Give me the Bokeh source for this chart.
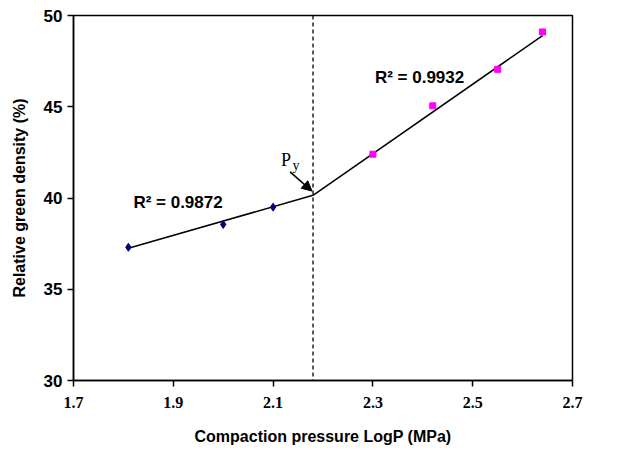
from bokeh.plotting import figure
from bokeh.models import FixedTicker, Span, Arrow, NormalHead, Label, Range1d
from bokeh.embed import file_html
from bokeh.resources import INLINE

# ---- data ----
logp_low = [1.81, 2.00, 2.10]
density_low = [37.3, 38.55, 39.5]
logp_high = [2.30, 2.42, 2.55, 2.64]
density_high = [42.4, 45.05, 47.05, 49.1]

fit_low_x = [1.81, 2.18]
fit_low_y = [37.25, 40.15]
fit_high_x = [2.18, 2.64]
fit_high_y = [40.15, 48.9]

py_logp = 2.18

x_ticks = [1.7, 1.9, 2.1, 2.3, 2.5, 2.7]
y_ticks = [30, 35, 40, 45, 50]

r2_low_text = "R\u00b2 = 0.9872"
r2_high_text = "R\u00b2 = 0.9932"

# ---- figure ----
p = figure(width=606, height=452, output_backend="svg", toolbar_location=None,
           x_range=Range1d(1.7, 2.7), y_range=Range1d(30, 50),
           min_border_left=73, min_border_right=34, min_border_top=15, min_border_bottom=72)

p.xgrid.visible = False
p.ygrid.visible = False
p.outline_line_color = "black"
p.outline_line_width = 1.5
p.background_fill_color = "white"
p.border_fill_color = "white"

p.xaxis.ticker = FixedTicker(ticks=x_ticks)
p.yaxis.ticker = FixedTicker(ticks=y_ticks)
p.xaxis.major_label_overrides = {t: f"{t:.1f}" for t in x_ticks}

for ax in (p.xaxis, p.yaxis):
    ax.axis_line_width = 1.5
    ax.axis_line_color = "black"
    ax.major_tick_line_width = 1.5
    ax.major_tick_out = 6
    ax.major_tick_in = 0
    ax.minor_tick_line_color = None
    ax.axis_label_text_font = "Liberation Sans"
    ax.axis_label_text_font_style = "bold"
    ax.axis_label_text_font_size = "16px"
    ax.axis_label_text_color = "black"
    ax.major_label_text_color = "black"
    ax.major_label_text_font_style = "bold"

p.xaxis.major_label_text_font = "Liberation Serif"
p.xaxis.major_label_text_font_size = "16px"
p.yaxis.major_label_text_font = "Liberation Sans"
p.yaxis.major_label_text_font_size = "17px"
p.xaxis.major_label_standoff = 10
p.yaxis.major_label_standoff = 5
p.xaxis.axis_label = "Compaction pressure LogP (MPa)"
p.yaxis.axis_label = "Relative green density (%)"
p.xaxis.axis_label_standoff = 17
p.yaxis.axis_label_standoff = 13

# dashed yield line
p.add_layout(Span(location=py_logp, dimension="height", line_color="black",
                  line_width=1.3, line_dash="4 3"))

# fit lines
p.line(fit_low_x, fit_low_y, line_color="black", line_width=1.5)
p.line(fit_high_x, fit_high_y, line_color="black", line_width=1.5)

# points
p.scatter(logp_low, density_low, marker="diamond", size=8,
          fill_color="#000080", line_color="#000080")
p.scatter(logp_high, density_high, marker="square", size=6,
          fill_color="#FF00FF", line_color="#FF00FF")

# annotations
p.add_layout(Label(x=1.82, y=39.73, text=r2_low_text, text_font="Liberation Sans",
                   text_font_style="bold", text_font_size="17px", text_baseline="middle",
                   text_color="black"))
p.add_layout(Label(x=2.304, y=46.6, text=r2_high_text, text_font="Liberation Sans",
                   text_font_style="bold", text_font_size="17px", text_baseline="middle",
                   text_color="black"))
p.add_layout(Label(x=2.116, y=42.1, text="P", text_font="Liberation Serif",
                   text_font_size="18px", text_baseline="middle", text_color="black"))
p.add_layout(Label(x=2.139, y=41.8, text="y", text_font="Liberation Serif",
                   text_font_size="14px", text_baseline="middle", text_color="black"))
p.add_layout(Arrow(end=NormalHead(size=10, fill_color="black", line_color="black"),
                   x_start=2.134, y_start=41.43, x_end=2.178, y_end=40.38,
                   line_width=1.5, line_color="black"))

open("out.html", "w").write(file_html(p, INLINE))
